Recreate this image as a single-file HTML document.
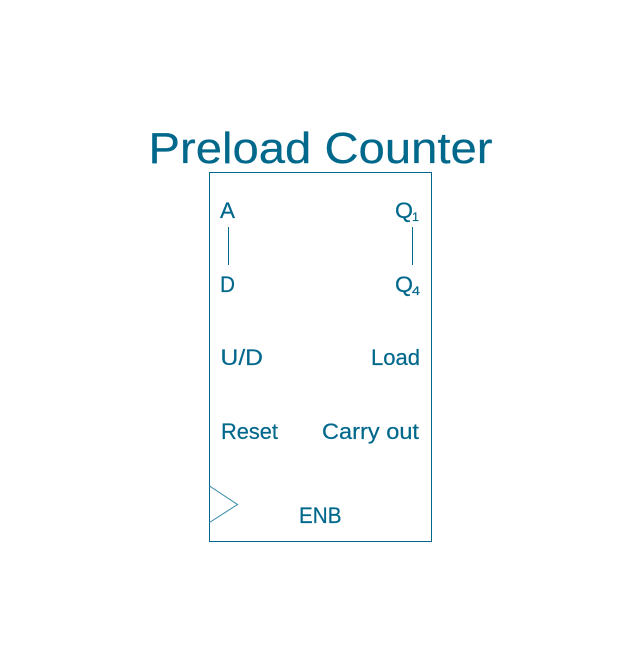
<!DOCTYPE html>
<html>
<head>
<meta charset="utf-8">
<style>
html,body{margin:0;padding:0;background:#fff;width:640px;height:657px;overflow:hidden}
svg{display:block}
text{font-family:"Liberation Sans",sans-serif;fill:#00688b;stroke:#00688b;stroke-width:.2}
</style>
</head>
<body>
<svg width="640" height="657" viewBox="0 0 640 657" xmlns="http://www.w3.org/2000/svg">
<rect x="209.5" y="172.5" width="222" height="369" fill="none" stroke="#00688b" stroke-width="1"/>
<path d="M209.5 486 L237.5 504.5 L209.5 522.5" fill="none" stroke="#2f86a5" stroke-width="1"/>
<line x1="228.5" y1="227" x2="228.5" y2="265" stroke="#00688b" stroke-width="1"/>
<line x1="412.5" y1="227" x2="412.5" y2="265" stroke="#00688b" stroke-width="1"/>
<text x="148.5" y="163" font-size="44" textLength="344" lengthAdjust="spacingAndGlyphs">Preload Counter</text>
<text x="220" y="218" font-size="22" textLength="15" lengthAdjust="spacingAndGlyphs">A</text>
<text x="395" y="218" font-size="22" textLength="18" lengthAdjust="spacingAndGlyphs">Q</text>
<text x="412" y="221" font-size="12" textLength="7" lengthAdjust="spacingAndGlyphs">1</text>
<text x="220" y="292" font-size="22" textLength="15" lengthAdjust="spacingAndGlyphs">D</text>
<text x="395" y="292" font-size="22" textLength="18" lengthAdjust="spacingAndGlyphs">Q</text>
<text x="412" y="295" font-size="12" textLength="8" lengthAdjust="spacingAndGlyphs">4</text>
<text x="220.5" y="365" font-size="22" textLength="42.5" lengthAdjust="spacingAndGlyphs">U/D</text>
<text x="371" y="365" font-size="22" textLength="49" lengthAdjust="spacingAndGlyphs">Load</text>
<text x="221" y="439" font-size="22" textLength="57" lengthAdjust="spacingAndGlyphs">Reset</text>
<text x="322" y="439" font-size="22" textLength="97" lengthAdjust="spacingAndGlyphs">Carry out</text>
<text x="299" y="523" font-size="22" textLength="42.5" lengthAdjust="spacingAndGlyphs">ENB</text>
</svg>
</body>
</html>
